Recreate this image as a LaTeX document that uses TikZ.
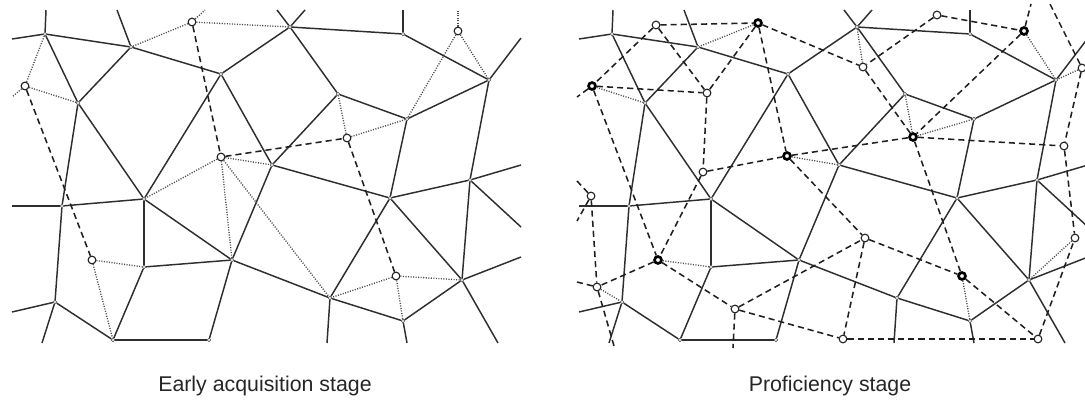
\documentclass[tikz,border=0pt]{standalone}
\usepackage{fontspec}
\setmainfont{Liberation Sans}

% Voronoi-style net of solid edges; #1 is a prefix for the node names
\newcommand{\voronet}[1]{%
  \foreach \n/\px/\py in {A/45/34,B/131/47,C/78/103,D/221/74,G/290/27,I/403/34,
      J/489/80,H/338/94,K/407/119,L/272/165,S/390/198,T/470/180,V/462/280,
      U/330/298,W/403/321,F/144/199,O/62/206,M/144/267,N/232/260,P/55/302,
      Q/113/340,R/209/340}
    \node[vtx] (#1\n) at (\px,\py) {};
  \foreach \n/\px/\py in {A1/46/10,A2/12/39,B1/117/10,G1/277/10,G2/305/10,
      I1/403/10,J1/521/38,T1/521/165,T2/521/227,V1/521/257,V2/498/343,
      W1/407/343,U1/327/343,P1/12/312,P2/42/343,O1/12/206}
    \coordinate (#1\n) at (\px,\py);
  \foreach \u/\v in {A/B,A/C,B/C,B/D,D/G,D/F,D/L,G/I,G/H,I/J,J/K,J/T,H/K,H/L,
      K/S,L/S,L/N,S/T,S/U,S/V,T/V,V/W,U/W,U/N,F/O,F/M,F/N,C/F,C/O,O/P,M/N,
      M/Q,P/Q,Q/R,R/N,A/A1,A/A2,B/B1,G/G1,G/G2,I/I1,J/J1,T/T1,T/T2,V/V1,
      V/V2,W/W1,U/U1,P/P1,P/P2,O/O1}
    \draw[voro] (#1\u) -- (#1\v);
}

\begin{document}
\begin{tikzpicture}[x=0.75pt,y=-0.75pt,
  voro/.style={draw=black!82, line width=1.1pt},
  vtx/.style={circle, draw=black!75, fill=white, line width=0.4pt,
    inner sep=0pt, minimum size=2.6pt},
  dotl/.style={draw=black!70, line width=1pt, dash pattern=on 0.8pt off 1.1pt},
  dashl/.style={draw=black!88, line width=1.15pt, dash pattern=on 4.6pt off 3pt},
  site/.style={circle, draw=black!85, fill=white, line width=0.85pt,
    inner sep=0pt, minimum size=5.8pt},
  bsite/.style={circle, draw=black, fill=white, line width=2pt,
    inner sep=0pt, minimum size=5.2pt},
  lbl/.style={font=\fontsize{16}{19}\selectfont, text=black!85}]

\useasboundingbox (0,0) rectangle (1085,406);
\clip (0,0) rectangle (1085,406);

% ---------------- left panel ----------------
\voronet{L}

\foreach \n/\px/\py in {a/192/22,b/25/86,c/221/157,d/458/31,e/347/138,f/92/260,g/396/276}
  \node[site] (p\n) at (\px,\py) {};
\coordinate (pa1) at (205,10);
\coordinate (pb1) at (12,97);
\coordinate (pd1) at (458,11);

\foreach \u/\v in {pa/LG,pa/LB,pa/pa1,pb/LA,pb/pb1,pb/LC,pc/LF,pc/LN,pc/LL,pc/LU,
    pd/pd1,pd/LJ,pd/LK,pe/LH,pe/LK,pf/LM,pf/LQ,pg/LU,pg/LV,pg/LW}
  \draw[dotl] (\u) -- (\v);
\foreach \u/\v in {pa/pc,pb/pf,pc/pe,pe/pg}
  \draw[dashl] (\u) -- (\v);

% ---------------- right panel ----------------
\begin{scope}[xshift=425.25pt]
  \voronet{R}
\end{scope}

\foreach \n/\px/\py in {1/656/25,4/707/93,5/703/172,7/937/15,8/863/67,11/1082/68,
    12/1064/146,13/591/196,15/597/287,16/735/309,17/865/238,19/843/339,
    20/1038/339,21/1075/238}
  \node[site] (q\n) at (\px,\py) {};
\foreach \n/\px/\py in {2/758/23,3/592/86,6/787/156,9/1024/31,10/913/137,
    14/658/260,18/962/276}
  \node[bsite] (q\n) at (\px,\py) {};

\coordinate (q11s) at (1050,4);
\coordinate (q9s) at (1031,4);
\coordinate (q13s) at (577,181);
\coordinate (q13t) at (577,221);
\coordinate (q15s) at (577,282);
\coordinate (q15t) at (614,346);
\coordinate (q3s) at (577,97);
\coordinate (q16s) at (733,348);

\foreach \u/\v in {q2/RB,q3/RC,q6/RL,q8/RG,q9/RJ,q10/RH,q10/RK,q11/RJ,
    q14/RM,q15/RP,q18/RW,q21/RV}
  \draw[dotl] (\u) -- (\v);

\foreach \u/\v in {q1/q2,q1/q3,q1/q4,q2/q4,q2/q6,q2/q8,q3/q4,q3/q14,q4/q5,
    q5/q6,q5/q14,q6/q10,q6/q17,q7/q8,q7/q9,q8/q10,q9/q10,q10/q12,q10/q18,
    q11/q12,q12/q21,q13/q15,q14/q15,q14/q16,q16/q17,q16/q19,q17/q18,q17/q19,
    q18/q20,q19/q20,q20/q21,q11/q11s,q9/q9s,q13/q13s,q13/q13t,q15/q15s,
    q15/q15t,q3/q3s,q16/q16s}
  \draw[dashl] (\u) -- (\v);

% ---------------- captions ----------------
\node[lbl] (cap1) at (265,386) {Early acquisition stage};
\node[lbl] (cap2) at (830,386) {Proficiency stage};
\end{tikzpicture}
\end{document}
